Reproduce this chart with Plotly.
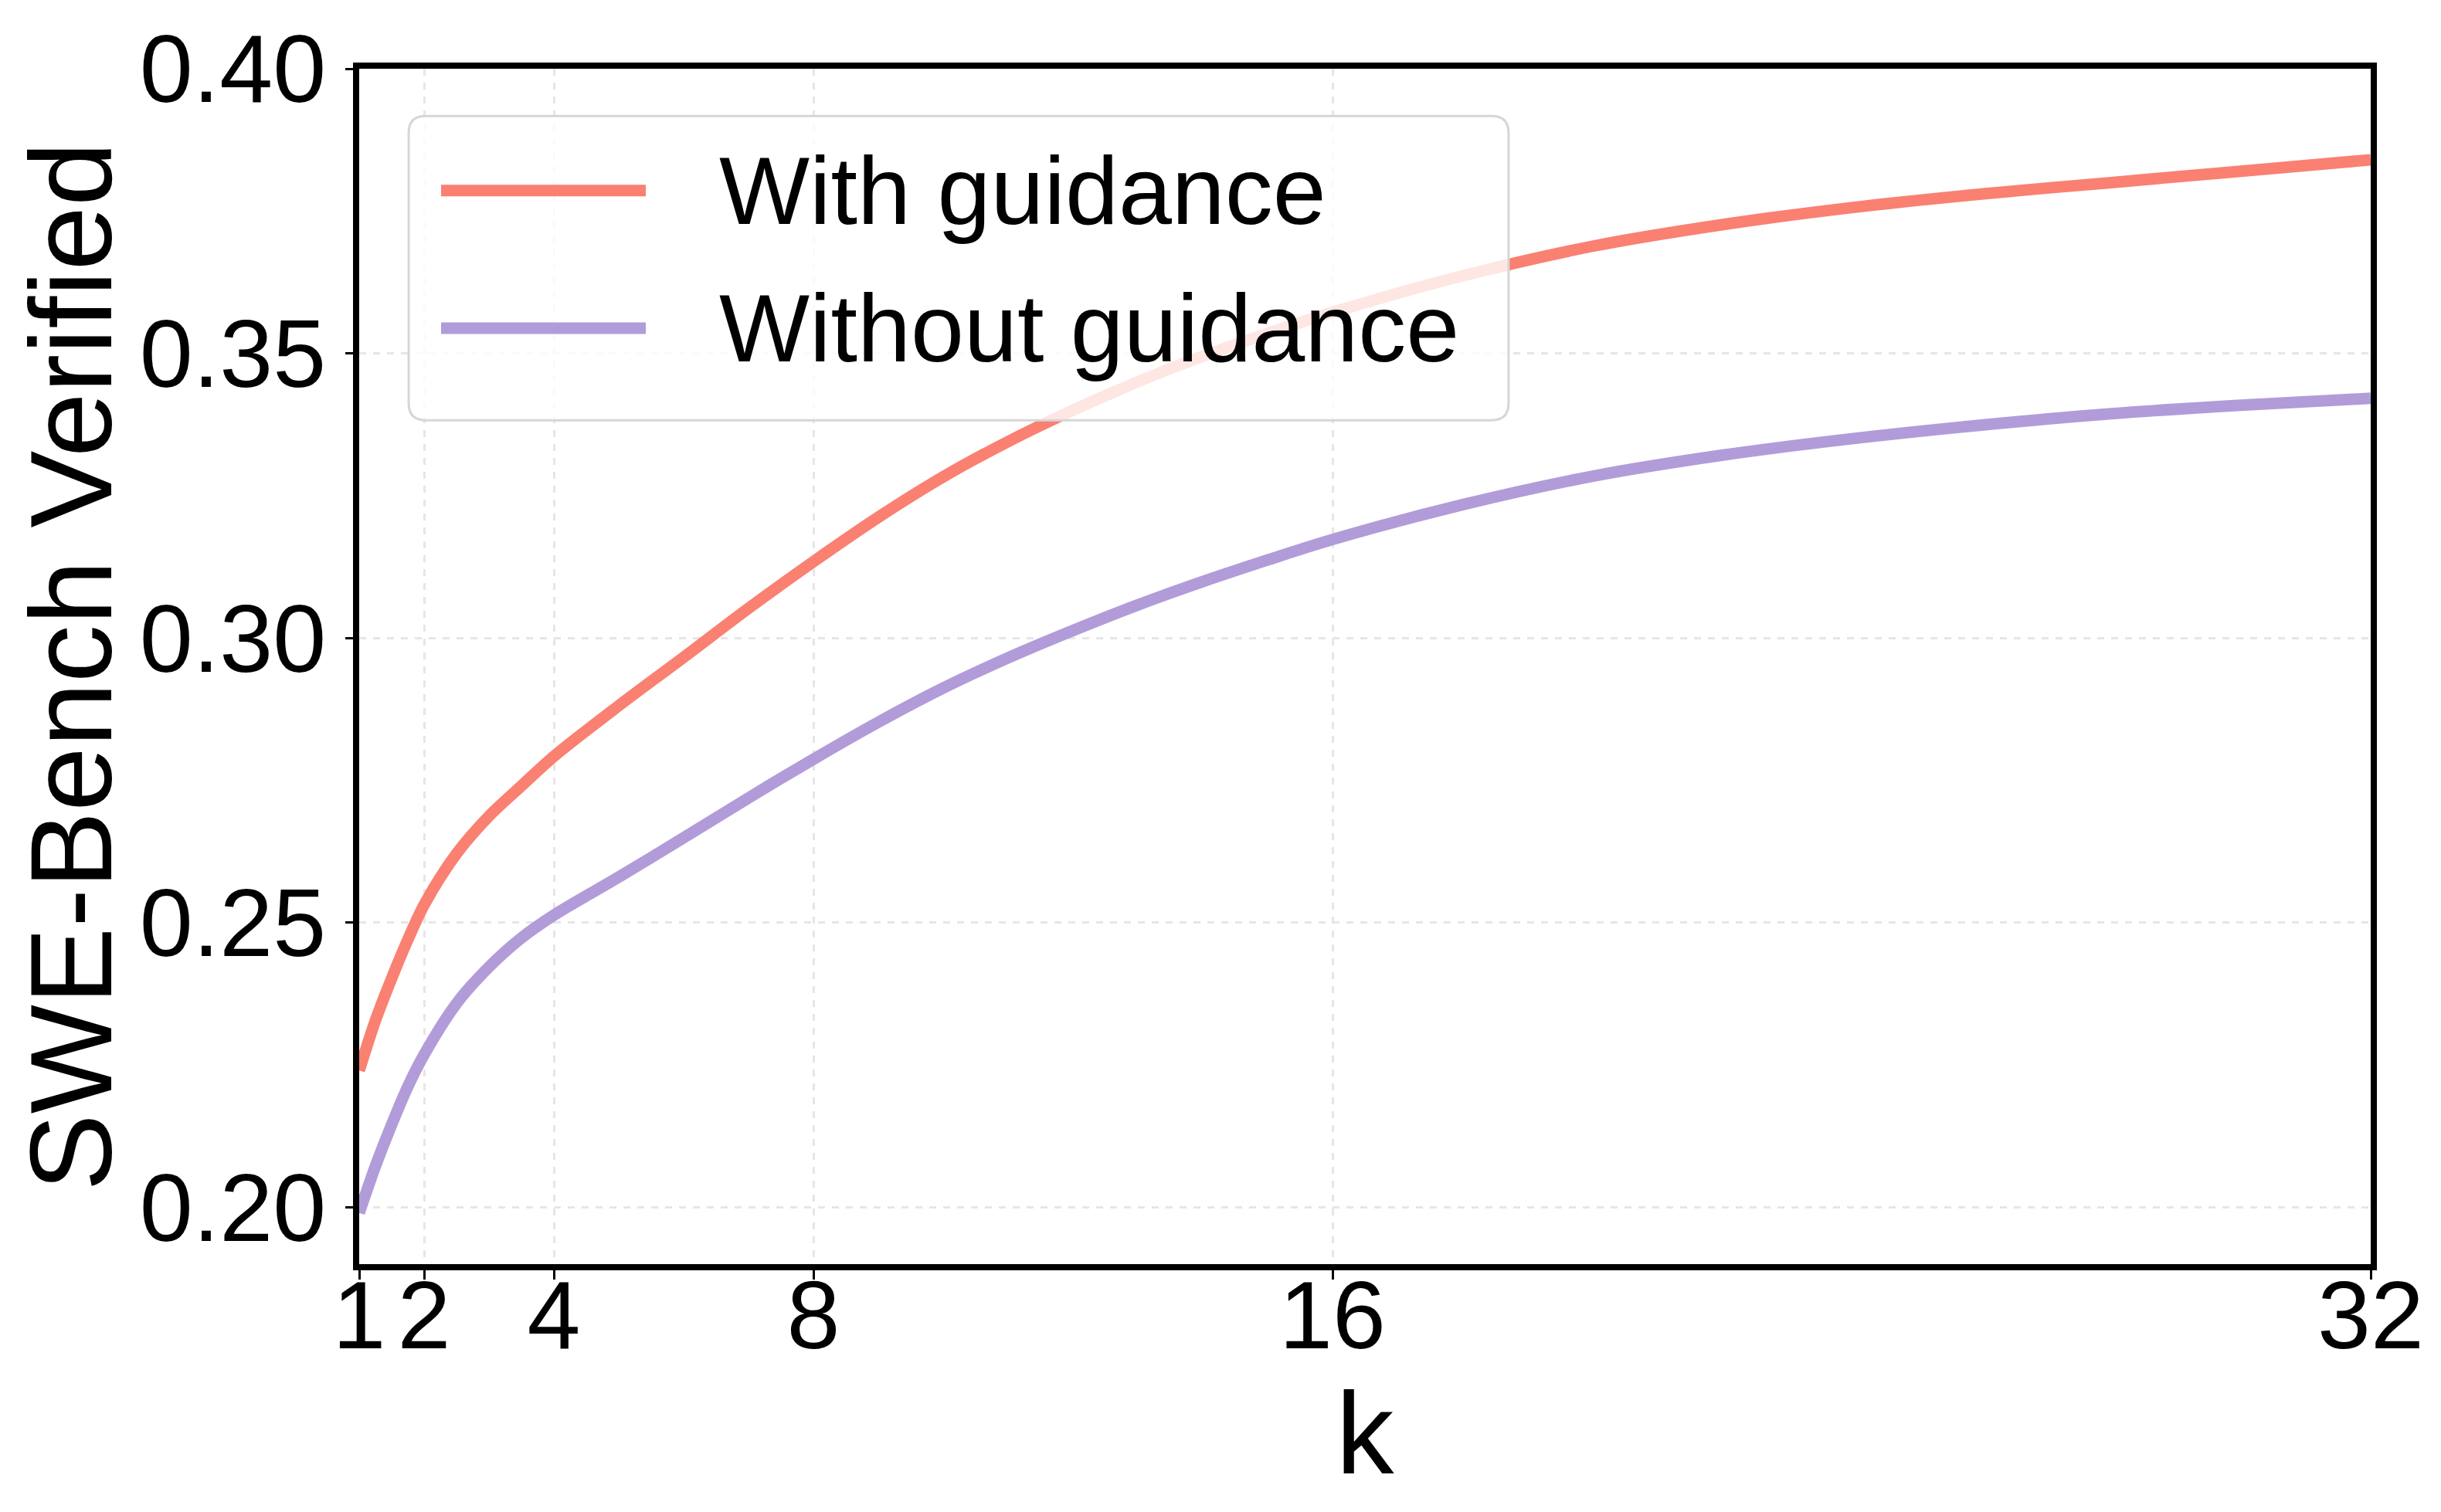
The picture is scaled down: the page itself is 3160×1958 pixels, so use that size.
import plotly.graph_objects as go

k_vals = [1, 1.25, 1.5, 1.75, 2, 2.5, 3, 3.5, 4, 5, 6, 7, 8, 9, 10, 11, 12, 13,
          14, 15, 16, 18, 20, 22, 24, 26, 28, 30, 32]
with_guidance = [0.224, 0.2328, 0.2402, 0.2470, 0.2531, 0.2621, 0.2687, 0.2740,
                 0.2792, 0.2881, 0.2966, 0.3052, 0.3134, 0.3212, 0.3283, 0.3345,
                 0.3400, 0.3450, 0.3495, 0.3535, 0.3572, 0.3636, 0.3688, 0.3726,
                 0.3756, 0.3780, 0.3800, 0.3820, 0.3840]
without_guidance = [0.199, 0.2072, 0.2145, 0.2212, 0.2268, 0.2358, 0.2422, 0.2473,
                    0.2513, 0.2580, 0.2649, 0.2719, 0.2787, 0.2852, 0.2912, 0.2965,
                    0.3013, 0.3058, 0.3099, 0.3137, 0.3173, 0.3234, 0.3284, 0.3321,
                    0.3350, 0.3374, 0.3394, 0.3409, 0.3421]
series_names = ["With guidance", "Without guidance"]
series_colors = ["#FA8072", "#B19CD9"]

x_ticks = [1, 2, 4, 8, 16, 32]
y_ticks = [0.20, 0.25, 0.30, 0.35, 0.40]

FONT = "Liberation Sans, Arial, sans-serif"

fig = go.Figure()
for name, ys, col in zip(series_names, [with_guidance, without_guidance], series_colors):
    fig.add_trace(go.Scatter(x=k_vals, y=ys, mode="lines", name=name,
                             line=dict(color=col, width=15, shape="spline", smoothing=0.9),
                             showlegend=False))

# hand-made legend box (plotly's own legend lines are too short)
lx0, lx1, ly0, ly1 = 0.0246, 0.5714, 0.7059, 0.9605
rx, ry = 22 / 2604, 22 / 1555.5
legend_path = (f"M{lx0 + rx},{ly1} L{lx1 - rx},{ly1} Q{lx1},{ly1} {lx1},{ly1 - ry} "
               f"L{lx1},{ly0 + ry} Q{lx1},{ly0} {lx1 - rx},{ly0} "
               f"L{lx0 + rx},{ly0} Q{lx0},{ly0} {lx0},{ly0 + ry} "
               f"L{lx0},{ly1 - ry} Q{lx0},{ly1} {lx0 + rx},{ly1} Z")
fig.add_shape(type="path", path=legend_path, xref="paper", yref="paper",
              fillcolor="rgba(255,255,255,0.8)", line=dict(color="#d6d6d6", width=3),
              layer="above")

legend_rows = [0.8981, 0.7830]
for name, col, yy in zip(series_names, series_colors, legend_rows):
    fig.add_shape(type="line", xref="paper", yref="paper", x0=0.0407, x1=0.1425,
                  y0=yy, y1=yy, line=dict(color=col, width=15), layer="above")
    fig.add_annotation(text=name, xref="paper", yref="paper", x=0.1782, y=yy,
                       xanchor="left", yanchor="middle", showarrow=False,
                       font=dict(family=FONT, size=124, color="black"))

fig.update_layout(
    width=3160, height=1958,
    margin=dict(l=457, r=99, t=74, b=329),
    paper_bgcolor="white", plot_bgcolor="white",
    font=dict(family=FONT, color="black"),
)

fig.update_xaxes(
    range=[1, 32], tickvals=x_ticks, ticktext=[str(t) for t in x_ticks],
    tickfont=dict(size=124), ticks="outside", ticklen=12, tickwidth=3, tickcolor="black",
    ticklabelstandoff=-60,
    showline=True, linecolor="black", linewidth=8, mirror=True,
    showgrid=True, gridcolor="#e6e6e6", gridwidth=3, griddash="dash", zeroline=False,
    title=dict(text="k", font=dict(size=150), standoff=30),
)
fig.update_yaxes(
    range=[0.19, 0.40], tickvals=y_ticks, tickformat=".2f",
    tickfont=dict(size=124), ticks="outside", ticklen=10, tickwidth=3, tickcolor="black",
    showline=True, linecolor="black", linewidth=8, mirror=True,
    showgrid=True, gridcolor="#e6e6e6", gridwidth=3, griddash="dash", zeroline=False,
    title=dict(text="SWE-Bench Verified", font=dict(size=150), standoff=30),
)

fig.write_html("out.html")
